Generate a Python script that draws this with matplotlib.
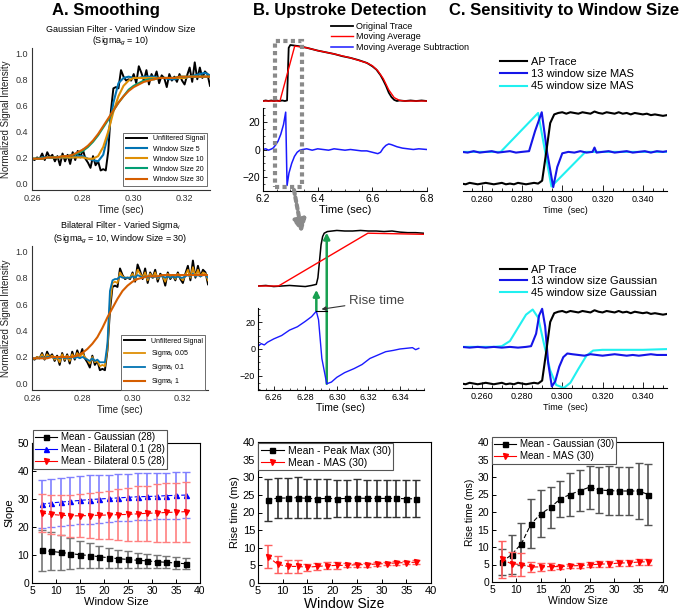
import matplotlib
matplotlib.use("Agg")
import matplotlib.pyplot as plt
import numpy as np
from matplotlib.patches import Rectangle, FancyArrowPatch
from matplotlib.lines import Line2D
from matplotlib.ticker import MultipleLocator

plt.rcParams['font.family'] = ['Liberation Sans', 'DejaVu Sans']
plt.rcParams['mathtext.fontset'] = 'custom'
plt.rcParams['mathtext.rm'] = 'Liberation Sans'
plt.rcParams['mathtext.it'] = 'Liberation Sans:italic'

W, H = 683, 612

# ---------------- data ----------------
# A: unfiltered signal, 1 ms steps from 0.260 s
a_raw = [0.19, 0.18, 0.20, 0.19, 0.23, 0.18, 0.24, 0.20, 0.22, 0.17,
         0.21, 0.14, 0.23, 0.17, 0.22, 0.15, 0.24, 0.18, 0.25, 0.20,
         0.26, 0.19, 0.16, 0.12, 0.21, 0.14, 0.17, 0.10, 0.11, 0.10,
         0.25, 0.55, 0.73, 0.74, 0.73, 0.87, 0.82, 0.79, 0.80, 0.79,
         0.84, 0.77, 0.90, 0.85, 0.79, 0.87, 0.76, 0.84, 0.80, 0.86,
         0.77, 0.83, 0.81, 0.74, 0.84, 0.79, 0.82, 0.78, 0.84, 0.79,
         0.76, 0.83, 0.89, 0.78, 0.93, 0.80, 0.89, 0.81, 0.86, 0.84,
         0.75]
a_sig005 = [0.19, 0.185, 0.20, 0.19, 0.22, 0.185, 0.22, 0.20, 0.21, 0.18,
            0.20, 0.16, 0.22, 0.18, 0.21, 0.17, 0.22, 0.19, 0.23, 0.20,
            0.23, 0.20, 0.18, 0.15, 0.20, 0.16, 0.17, 0.13, 0.14, 0.13,
            0.26, 0.60, 0.76, 0.77, 0.76, 0.84, 0.81, 0.80, 0.80, 0.80,
            0.83, 0.79, 0.86, 0.83, 0.80, 0.84, 0.78, 0.83, 0.80, 0.84,
            0.79, 0.82, 0.81, 0.77, 0.83, 0.80, 0.82, 0.79, 0.83, 0.80,
            0.78, 0.82, 0.86, 0.80, 0.88, 0.81, 0.86, 0.81, 0.84, 0.83,
            0.78]
a_sig01 = [0.19, 0.19, 0.19, 0.19, 0.20, 0.19, 0.20, 0.20, 0.20, 0.19,
           0.20, 0.19, 0.20, 0.19, 0.20, 0.19, 0.20, 0.19, 0.20, 0.19,
           0.20, 0.19, 0.18, 0.17, 0.19, 0.17, 0.18, 0.16, 0.16, 0.16,
           0.30, 0.70, 0.78, 0.79, 0.79, 0.81, 0.80, 0.80, 0.80, 0.80,
           0.81, 0.80, 0.82, 0.81, 0.80, 0.81, 0.80, 0.81, 0.80, 0.81,
           0.80, 0.81, 0.81, 0.80, 0.81, 0.80, 0.81, 0.80, 0.81, 0.80,
           0.80, 0.81, 0.82, 0.81, 0.83, 0.81, 0.82, 0.81, 0.82, 0.82,
           0.80]
# smoothed curves, 2 ms steps from 0.260 s
a_w5 = [.19, .19, .20, .20, .20, .20, .20, .20, .20, .21, .21, .19, .18, .17, .22, .38, .62, .77,
        .81, .82, .81, .81, .82, .82, .82, .81, .81, .80, .80, .81, .81, .82, .83, .84, .85, .83]
a_w10 = [.19, .19, .19, .20, .20, .20, .20, .20, .20, .20, .20, .19, .19, .21, .28, .40, .55, .67,
         .75, .79, .81, .81, .81, .81, .81, .81, .81, .81, .81, .81, .81, .82, .82, .82, .82, .82]
a_w20 = [.19, .19, .19, .20, .20, .20, .21, .21, .22, .23, .25, .28, .32, .37, .43, .49, .56, .62,
         .67, .72, .75, .77, .79, .80, .80, .81, .81, .81, .81, .82, .82, .82, .82, .82, .82, .82]
a_w30 = [.19, .19, .19, .20, .20, .20, .21, .21, .22, .24, .26, .29, .33, .38, .44, .50, .56, .62,
         .67, .71, .74, .76, .78, .79, .80, .81, .81, .81, .81, .82, .82, .82, .82, .82, .82, .82]
a_sig1 = [.19, .19, .19, .19, .20, .20, .20, .20, .20, .21, .23, .26, .30, .35, .42, .50, .57, .64,
          .70, .74, .77, .79, .80, .81, .81, .81, .82, .82, .82, .82, .82, .82, .82, .82, .82, .82]

# B top: AP trace, moving average, MAS
b_ap_t = [6.200, 6.210, 6.220, 6.230, 6.240, 6.250, 6.260, 6.270, 6.280, 6.288, 6.291, 6.294,
          6.300, 6.330, 6.360, 6.400, 6.430, 6.460, 6.490, 6.520, 6.550, 6.580, 6.600, 6.615,
          6.630, 6.640, 6.650, 6.660, 6.670, 6.680, 6.690, 6.700, 6.720, 6.740, 6.760, 6.780, 6.800]
b_ap_v = [0.00, 0.01, 0.00, 0.01, 0.00, 0.01, 0.00, 0.01, 0.00, 0.01, 0.50, 0.95,
          1.00, 0.98, 0.95, 0.90, 0.87, 0.84, 0.80, 0.77, 0.73, 0.68, 0.62, 0.56,
          0.46, 0.37, 0.27, 0.15, 0.07, 0.02, 0.00, 0.01, 0.00, 0.01, 0.00, 0.01, 0.00]
b_ma_t = [6.200, 6.262, 6.316, 6.360, 6.400, 6.460, 6.520, 6.580, 6.600, 6.620, 6.640,
          6.660, 6.680, 6.700, 6.720, 6.800]
b_ma_v = [0.00, 0.00, 0.98, 0.95, 0.90, 0.84, 0.77, 0.68, 0.63, 0.54, 0.40,
          0.20, 0.06, 0.01, 0.00, 0.00]
b_mas_t = [6.200, 6.210, 6.220, 6.230, 6.237, 6.245, 6.255, 6.265, 6.275, 6.283, 6.2855, 6.288,
           6.295, 6.305, 6.315, 6.325, 6.335, 6.345, 6.360, 6.380, 6.400, 6.420, 6.440, 6.460,
           6.480, 6.500, 6.520, 6.540, 6.560, 6.580, 6.600, 6.620, 6.630, 6.640, 6.650, 6.660,
           6.670, 6.690, 6.710, 6.730, 6.750, 6.770, 6.800]
b_mas_v = [0, 0.5, -0.5, 0.3, 1, 3, 6, 11, 18, 27, 0, -26,
           -17, -10, -5, -2, -0.5, 0, 0.5, -0.5, 0.5, 0, -0.5, 0.5,
           0, -0.5, 0, -0.5, -1, -1, -2, -3, -2, 1, 3, 4,
           3.5, 2, 1, 0.5, 0, 0.5, 0]

# B middle: zoom on the upstroke
bz_ap_t = [6.250, 6.255, 6.260, 6.265, 6.270, 6.275, 6.280, 6.284, 6.287, 6.288, 6.289, 6.290,
           6.291, 6.292, 6.294, 6.297, 6.300, 6.305, 6.310, 6.315, 6.320, 6.325, 6.330, 6.335,
           6.340, 6.345, 6.350, 6.355]
bz_ap_v = [0.00, 0.01, -0.01, 0.00, 0.01, 0.00, -0.01, 0.01, 0.03, 0.15, 0.45, 0.75,
           0.90, 0.96, 0.99, 1.00, 1.01, 1.00, 1.00, 1.01, 1.00, 1.00, 0.99, 1.00,
           0.98, 0.97, 0.97, 0.96]
bz_ma_t = [6.250, 6.263, 6.3197, 6.355]
bz_ma_v = [0.00, 0.00, 0.96, 0.94]
bz_mas_t = [6.250, 6.252, 6.254, 6.256, 6.260, 6.265, 6.270, 6.275, 6.280, 6.284, 6.287, 6.2884,
            6.2905, 6.2936, 6.2966, 6.300, 6.305, 6.311, 6.316, 6.321, 6.326, 6.331, 6.336, 6.340,
            6.344, 6.348, 6.350, 6.352]
bz_mas_v = [2, 4, 3, 5, 7.5, 10, 14, 16.5, 20.5, 24, 28, 21.7,
            -7, -25.8, -24.5, -21, -17.5, -14.5, -11.5, -7, -4.5, -2, -1, 0,
            0.5, 1, -0.5, 0.5]

# C: AP trace (normalized), 2 ms steps from 0.250 s
c_ap = [0.02, 0.01, 0.03, 0.02, 0.01, 0.02, 0.03, 0.02, 0.01, 0.02,
        0.03, 0.01, 0.02, 0.01, 0.03, 0.02, 0.01, 0.02, 0.03, 0.02,
        0.06, 0.45, 0.86, 0.98, 1.00, 1.01, 0.99, 1.01, 1.00, 0.99,
        1.01, 1.00, 0.99, 1.02, 1.00, 0.99, 1.01, 1.00, 0.99, 1.01,
        0.99, 1.00, 0.98, 1.00, 0.99, 0.98, 0.99, 0.97, 0.98, 0.97,
        0.96, 0.97]
c_mas13_t = [0.250, 0.253, 0.256, 0.259, 0.262, 0.265, 0.268, 0.271, 0.274, 0.277, 0.280, 0.2835,
             0.2865, 0.2898, 0.2925, 0.2955, 0.2975, 0.300, 0.303, 0.306, 0.309, 0.312, 0.315,
             0.316, 0.317, 0.320, 0.323, 0.326, 0.329, 0.332, 0.335, 0.338, 0.341, 0.344, 0.347,
             0.350, 0.352]
c_mas13_v = [0.46, 0.45, 0.47, 0.45, 0.46, 0.47, 0.45, 0.46, 0.47, 0.45, 0.46, 0.47,
             0.75, 1.01, 0.45, -0.03, 0.25, 0.44, 0.46, 0.45, 0.47, 0.45, 0.46,
             0.52, 0.45, 0.46, 0.47, 0.45, 0.46, 0.47, 0.45, 0.46, 0.47, 0.45, 0.47,
             0.46, 0.47]
c_mas45_t = [0.250, 0.2694, 0.288, 0.2946, 0.3115, 0.352]
c_mas45_v = [0.46, 0.46, 1.00, -0.02, 0.46, 0.46]
c_g13_t = [0.250, 0.254, 0.258, 0.262, 0.266, 0.270, 0.274, 0.278, 0.282, 0.2845, 0.2870, 0.2885,
           0.2900, 0.2915, 0.2930, 0.2948, 0.2965, 0.2985, 0.3005, 0.3025, 0.305, 0.308, 0.311,
           0.314, 0.317, 0.320, 0.323, 0.326, 0.329, 0.332, 0.335, 0.338, 0.341, 0.344, 0.347,
           0.350, 0.352]
c_g13_v = [0.52, 0.51, 0.52, 0.51, 0.52, 0.51, 0.52, 0.51, 0.52, 0.53, 0.70, 0.95,
           1.04, 0.80, 0.30, -0.02, 0.05, 0.25, 0.38, 0.43, 0.42, 0.41, 0.40,
           0.42, 0.41, 0.40, 0.41, 0.42, 0.41, 0.40, 0.41, 0.40, 0.41, 0.42, 0.41,
           0.41, 0.41]
c_g45_t = [0.250, 0.260, 0.266, 0.270, 0.274, 0.278, 0.282, 0.2853, 0.288, 0.291, 0.294, 0.297,
           0.3008, 0.304, 0.308, 0.312, 0.3153, 0.320, 0.330, 0.340, 0.352]
c_g45_v = [0.52, 0.52, 0.52, 0.53, 0.60, 0.78, 0.96, 1.03, 0.92, 0.55, 0.20, 0.00,
           -0.04, 0.03, 0.22, 0.40, 0.47, 0.48, 0.48, 0.48, 0.49]

# bottom row: means and SD vs window size
win = [7, 9, 11, 13, 15, 17, 19, 21, 23, 25, 27, 29, 31, 33, 35, 37]
slope_gauss = [11.7, 11.3, 10.9, 10.5, 10.1, 9.8, 9.4, 9.0, 8.7, 8.4, 8.1, 7.9, 7.6, 7.4, 7.1, 6.9]
slope_gauss_sd = [7.4, 6.8, 6.1, 5.5, 4.9, 4.4, 3.9, 3.5, 3.2, 2.9, 2.7, 2.5, 2.3, 2.2, 2.1, 1.9]
slope_bil01 = [28.1, 28.6, 28.9, 29.2, 29.5, 29.8, 30.0, 30.2, 30.4, 30.6, 30.8, 30.9, 31.0, 31.2, 31.3, 31.4]
slope_bil01_sd = [8.6, 8.5, 8.6, 8.6, 8.6, 8.6, 8.5, 8.5, 8.4, 8.4, 8.4, 8.3, 8.2, 8.2, 8.3, 8.3]
slope_bil05 = [25.0, 24.5, 24.2, 24.0, 24.0, 24.1, 24.2, 24.3, 24.4, 24.5, 24.7, 24.9, 25.0, 25.2, 25.3, 25.5]
slope_bil05_sd = [6.8, 7.0, 7.2, 7.5, 7.7, 8.1, 8.4, 8.7, 9.1, 9.5, 9.8, 9.9, 10.2, 10.4, 10.5, 10.7]
rise_peak = [23.6, 24.1, 24.1, 24.2, 24.0, 23.9, 24.0, 23.9, 24.0, 24.1, 24.0, 24.0, 24.0, 24.0, 23.9, 23.9]
rise_peak_sd = [5.9, 5.7, 5.8, 5.8, 5.6, 5.5, 5.6, 5.3, 5.3, 5.3, 5.2, 5.2, 5.2, 5.2, 5.2, 5.2]
rise_mas_b = [7.5, 5.3, 4.7, 4.7, 4.5, 4.7, 4.9, 5.0, 5.0, 5.2, 5.2, 5.4, 5.5, 5.7, 5.8, 5.9]
rise_mas_b_sd = [3.3, 2.4, 1.8, 1.8, 1.0, 1.0, 1.0, 1.0, 0.6, 0.6, 0.6, 0.5, 0.5, 0.5, 0.5, 0.5]
rise_gauss_c = [5.7, 7.8, 10.9, 16.6, 19.5, 21.3, 23.8, 25.0, 26.1, 27.1, 26.3, 26.1, 26.0, 26.0, 26.0, 25.0]
rise_gauss_c_sd = [3.8, 5.6, 6.0, 7.0, 6.7, 5.8, 5.2, 6.1, 5.8, 6.1, 6.6, 7.0, 6.9, 6.9, 8.1, 8.6]
rise_mas_c = [6.5, 5.2, 5.0, 4.3, 4.3, 4.4, 4.4, 4.6, 4.7, 4.9, 5.1, 5.2, 5.4, 5.5, 5.7, 5.8]
rise_mas_c_sd = [5.3, 3.5, 3.4, 1.4, 1.2, 1.1, 0.6, 0.6, 0.7, 0.7, 0.8, 0.8, 0.9, 0.9, 0.9, 0.9]

t_a1 = 0.260 + 0.001 * np.arange(len(a_raw))
t_a2 = 0.260 + 0.002 * np.arange(len(a_w5))
t_c = 0.250 + 0.002 * np.arange(len(c_ap))

CB = ['#0173B2', '#DE8F05', '#029E73', '#D55E00']
GREEN = '#18a050'


def box(l, t, r, b):
    # pixel box -> figure fraction
    return [l / W, 1 - b / H, (r - l) / W, (b - t) / H]


fig = plt.figure(figsize=(6.83, 6.12), dpi=100)

# ---------------- titles ----------------
fig.text(106 / W, 1 - 11 / H, 'A. Smoothing', ha='center', va='center', fontsize=12, weight='bold')
fig.text(340 / W, 1 - 11 / H, 'B. Upstroke Detection', ha='center', va='center', fontsize=12, weight='bold')
fig.text(564 / W, 1 - 11 / H, 'C. Sensitivity to Window Size', ha='center', va='center', fontsize=12, weight='bold')


def style_sns(ax):
    for s in ['top', 'right']:
        ax.spines[s].set_visible(False)
    for s in ['left', 'bottom']:
        ax.spines[s].set_color('#333333')
        ax.spines[s].set_linewidth(0.8)
    ax.tick_params(length=0, pad=3, labelsize=6.5, colors='#333333')
    ax.set_xlim(0.26, 0.33)
    ax.set_ylim(-0.05, 1.04)
    ax.set_xticks([0.26, 0.28, 0.30, 0.32])
    ax.set_yticks([0.0, 0.2, 0.4, 0.6, 0.8, 1.0])
    ax.set_xlabel('Time (sec)', fontsize=7, labelpad=1, color='#222222')
    ax.set_ylabel('Normalized Signal Intensity', fontsize=7, labelpad=3, color='#222222')


# ---------------- A top ----------------
ax = fig.add_axes(box(32, 48, 210, 190))
ax.plot(t_a1, a_raw, color='black', lw=1.4, label='Unfiltered Signal')
ax.plot(t_a2, a_w5, color=CB[0], lw=1.5, label='Window Size 5')
ax.plot(t_a2, a_w10, color=CB[1], lw=1.5, label='Window Size 10')
ax.plot(t_a2, a_w20, color=CB[2], lw=1.5, label='Window Size 20')
ax.plot(t_a2, a_w30, color=CB[3], lw=1.5, label='Window Size 30')
style_sns(ax)
ax.set_title('Gaussian Filter - Varied Window Size\n(Sigma$_g$ = 10)', fontsize=6.5, pad=3, linespacing=1.1)
lg = ax.legend(loc='lower right', bbox_to_anchor=(0.985, 0.03), fontsize=5, handlelength=3,
               labelspacing=0.45, borderaxespad=0, fancybox=False, framealpha=1)
lg.get_frame().set_edgecolor('#555555')
lg.get_frame().set_linewidth(0.6)

# ---------------- A middle ----------------
ax = fig.add_axes(box(32, 246, 208, 390))
ax.plot(t_a1, a_raw, color='black', lw=1.4, label='Unfiltered Signal')
ax.plot(t_a1, a_sig005, color=CB[1], lw=1.3, label='Sigma$_i$ 0.05')
ax.plot(t_a1, a_sig01, color=CB[0], lw=1.3, label='Sigma$_i$ 0.1')
ax.plot(t_a2, a_sig1, color=CB[3], lw=1.5, label='Sigma$_i$ 1')
style_sns(ax)
ax.set_title('Bilateral Filter - Varied Sigma$_i$\n(Sigma$_g$ = 10, Window Size = 30)', fontsize=6.5,
             pad=3, linespacing=1.1)
lg = ax.legend(loc='lower right', bbox_to_anchor=(0.985, 0.0), fontsize=5, handlelength=3,
               labelspacing=0.45, borderaxespad=0, fancybox=False, framealpha=1)
lg.get_frame().set_edgecolor('#555555')
lg.get_frame().set_linewidth(0.6)


def style_origin(ax, xlim, ylim, ystep, fs_tick, fs_lab):
    ax.set_xlim(*xlim)
    ax.set_ylim(*ylim)
    ax.xaxis.set_major_locator(MultipleLocator(5))
    ax.yaxis.set_major_locator(MultipleLocator(ystep))
    ax.tick_params(direction='in', length=3, width=0.7, labelsize=fs_tick, pad=2)
    for s in ax.spines.values():
        s.set_linewidth(0.8)
    ax.set_xlabel('Window Size', fontsize=fs_lab, labelpad=1)


def mean_sd(ax, y, sd, color, ecolor, marker, label):
    ax.errorbar(win, y, yerr=sd, fmt='none', ecolor=ecolor, elinewidth=1.2, capsize=3, capthick=1)
    line, = ax.plot(win, y, color=color, marker=marker, ms=3.6, lw=0.8, ls='--', label=label,
                    dashes=(4, 2))
    return line


def origin_legend(ax, handles, x, y, fs):
    hl = [Line2D([0], [0], color=h.get_color(), marker=h.get_marker(), ms=3.6, lw=0.8) for h in handles]
    lg = ax.legend(hl, [h.get_label() for h in handles], loc='upper left', bbox_to_anchor=(x / W, 1 - y / H),
                   bbox_transform=fig.transFigure, fontsize=fs, handlelength=2.2, handletextpad=0.4,
                   labelspacing=0.2, borderpad=0.25, borderaxespad=0, fancybox=False, framealpha=1)
    lg.get_frame().set_edgecolor('#555555')
    lg.get_frame().set_linewidth(0.8)


# ---------------- A bottom ----------------
ax = fig.add_axes(box(32, 443, 200, 583))
h1 = mean_sd(ax, slope_gauss, slope_gauss_sd, 'black', '#777777', 's', 'Mean - Gaussian (28)')
h2 = mean_sd(ax, slope_bil01, slope_bil01_sd, 'blue', '#8080ff', '^', 'Mean - Bilateral 0.1 (28)')
h3 = mean_sd(ax, slope_bil05, slope_bil05_sd, 'red', '#ff8080', 'v', 'Mean - Bilateral 0.5 (28)')
style_origin(ax, (5, 40), (0, 50), 10, 7.5, 8)
ax.set_ylabel('Slope', fontsize=8, labelpad=2)
origin_legend(ax, [h1, h2, h3], 33, 430, 7)

# ---------------- B top ----------------
ax_u = fig.add_axes(box(263, 40, 427, 105))
ax_u.patch.set_visible(False)
l1, = ax_u.plot(b_ap_t, b_ap_v, color='black', lw=1.3, label='Original Trace')
l2, = ax_u.plot(b_ma_t, b_ma_v, color='red', lw=1.0, label='Moving Average')
ax_u.set_xlim(6.2, 6.8)
ax_u.set_ylim(-0.071, 1.089)
ax_u.axis('off')

ax_l = fig.add_axes(box(263, 108, 427, 191))
ax_l.patch.set_visible(False)
l3, = ax_l.plot(b_mas_t, b_mas_v, color='#1a1aff', lw=1.1, label='Moving Average Subtraction')
ax_l.set_xlim(6.2, 6.8)
ax_l.set_ylim(-30, 30)
ax_l.set_yticks([-20, 0, 20])
ax_l.set_xticks([6.2, 6.4, 6.6, 6.8])
ax_l.yaxis.set_minor_locator(MultipleLocator(5))
ax_l.xaxis.set_minor_locator(MultipleLocator(0.05))
for s in ['top', 'right']:
    ax_l.spines[s].set_visible(False)
ax_l.tick_params(direction='in', length=3, width=0.6, labelsize=7.5, pad=2)
ax_l.tick_params(which='minor', direction='in', length=1.5, width=0.5)
ax_l.set_xlabel('Time (sec)', fontsize=8, labelpad=1)
fig.legend([l1, l2, l3], [l1.get_label(), l2.get_label(), l3.get_label()], loc='upper left',
           bbox_to_anchor=(331 / W, 1 - 22 / H), frameon=False, fontsize=6.5, handlelength=2.4,
           handletextpad=0.35, labelspacing=0.15, borderpad=0, borderaxespad=0)

# dashed box around upstroke and dotted arrow
fig.add_artist(Rectangle((275 / W, 1 - 187 / H), 27 / W, 146 / H, transform=fig.transFigure,
                         fill=False, ec='#8a8a8a', lw=3, ls=(0, (1, 0.8))))
fig.add_artist(FancyArrowPatch((294 / W, 1 - 190 / H), (302 / W, 1 - 233 / H), transform=fig.transFigure,
                               arrowstyle='-|>', mutation_scale=18, color='#8a8a8a', lw=3,
                               ls=(0, (1, 0.8)), shrinkA=0, shrinkB=0))

# ---------------- B middle ----------------
ax_u2 = fig.add_axes(box(258, 226, 424, 292))
ax_u2.plot(bz_ap_t, bz_ap_v, color='black', lw=1.1)
ax_u2.plot(bz_ma_t, bz_ma_v, color='red', lw=1.0)
ax_u2.set_xlim(6.25, 6.3553)
ax_u2.set_ylim(-0.109, 1.091)
ax_u2.axis('off')

ax_l2 = fig.add_axes(box(258, 308, 424, 390))
ax_l2.patch.set_visible(False)
ax_l2.plot(bz_mas_t, bz_mas_v, color='#1a1aff', lw=1.0)
ax_l2.set_xlim(6.25, 6.3553)
ax_l2.set_ylim(-30.4, 30.4)
ax_l2.set_yticks([-20, 0, 20])
ax_l2.set_xticks([6.26, 6.28, 6.30, 6.32, 6.34])
ax_l2.set_xticklabels(['6.26', '6.28', '6.30', '6.32', '6.34'])
ax_l2.yaxis.set_minor_locator(MultipleLocator(5))
ax_l2.xaxis.set_minor_locator(MultipleLocator(0.005))
for s in ['top', 'right']:
    ax_l2.spines[s].set_visible(False)
ax_l2.tick_params(direction='in', length=3, width=0.6, labelsize=6.5, pad=2)
ax_l2.tick_params(which='minor', direction='in', length=1.5, width=0.5)
ax_l2.set_xlabel('Time (sec)', fontsize=7.5, labelpad=1)

# green arrows: MAS peak -> upstroke start, MAS min -> upstroke end
t_peak = bz_mas_t[bz_mas_v.index(max(bz_mas_v))]
t_min = bz_mas_t[bz_mas_v.index(min(bz_mas_v))]
ax_u2.annotate('', xy=(t_peak, -0.07), xycoords=ax_u2.transData, xytext=(t_peak, max(bz_mas_v)),
               textcoords=ax_l2.transData, annotation_clip=False,
               arrowprops=dict(arrowstyle='-|>', color=GREEN, lw=1.8, mutation_scale=9, shrinkA=0, shrinkB=0))
ax_u2.annotate('', xy=(t_min, 0.97), xycoords=ax_u2.transData, xytext=(t_min, min(bz_mas_v)),
               textcoords=ax_l2.transData, annotation_clip=False,
               arrowprops=dict(arrowstyle='-|>', color=GREEN, lw=1.8, mutation_scale=9, shrinkA=0, shrinkB=0))
ax_l2.plot([t_peak, t_min], [28, 28], color='black', lw=0.8, clip_on=False)
ax_l2.annotate('Rise time', xy=((t_peak + t_min) / 2, 29.5), xycoords='data',
               xytext=(349 / W, 1 - 301 / H), textcoords='figure fraction', fontsize=9.5,
               color='#444444', va='center', ha='left', annotation_clip=False,
               arrowprops=dict(arrowstyle='-|>', color='#333333', lw=0.8, mutation_scale=6,
                               shrinkA=1, shrinkB=0))

# ---------------- B bottom ----------------
ax = fig.add_axes(box(258, 442, 431, 583))
h1 = mean_sd(ax, rise_peak, rise_peak_sd, 'black', '#333333', 's', 'Mean - Peak Max (30)')
h2 = mean_sd(ax, rise_mas_b, rise_mas_b_sd, 'red', '#ff6060', 'v', 'Mean - MAS (30)')
style_origin(ax, (5, 40), (0, 40), 5, 8, 10)
ax.set_ylabel('Rise time (ms)', fontsize=8, labelpad=2)
origin_legend(ax, [h1, h2], 258, 443, 7.5)


# ---------------- C top / middle ----------------
def style_trace_c(ax):
    ax.set_xlim(0.2507, 0.352)
    for s in ['top', 'right', 'left']:
        ax.spines[s].set_visible(False)
    ax.spines['bottom'].set_linewidth(0.8)
    ax.set_yticks([])
    ax.set_xticks([0.26, 0.28, 0.30, 0.32, 0.34])
    ax.set_xticklabels(['0.260', '0.280', '0.300', '0.320', '0.340'])
    ax.xaxis.set_minor_locator(MultipleLocator(0.005))
    ax.tick_params(axis='x', direction='in', length=4, width=0.6, labelsize=6.5, pad=3)
    ax.tick_params(axis='x', which='minor', direction='in', length=2.5, width=0.6)
    ax.set_xlabel('Time  (sec)', fontsize=6.5, labelpad=1)


ax = fig.add_axes(box(463, 100, 667, 191))
ax.plot(c_mas45_t, c_mas45_v, color='#20f0f0', lw=1.5, label='45 window size MAS')
ax.plot(c_mas13_t, c_mas13_v, color='#1515e8', lw=1.5, label='13 window size MAS')
ax.plot(t_c, c_ap, color='black', lw=1.5, label='AP Trace')
ax.set_ylim(-0.083, 1.18)
style_trace_c(ax)
hs, ls_ = ax.get_legend_handles_labels()
fig.legend(hs[::-1], ls_[::-1], loc='upper left', bbox_to_anchor=(500 / W, 1 - 57 / H), frameon=False,
           fontsize=8, handlelength=2.4, handletextpad=0.4, labelspacing=0.2, borderpad=0, borderaxespad=0)

ax = fig.add_axes(box(463, 300, 667, 388))
ax.plot(c_g45_t, c_g45_v, color='#20f0f0', lw=1.5, label='45 window size Gaussian')
ax.plot(c_g13_t, c_g13_v, color='#1515e8', lw=1.5, label='13 window size Gaussian')
ax.plot(t_c, c_ap, color='black', lw=1.5, label='AP Trace')
ax.set_ylim(-0.041, 1.16)
style_trace_c(ax)
hs, ls_ = ax.get_legend_handles_labels()
fig.legend(hs[::-1], ls_[::-1], loc='upper left', bbox_to_anchor=(500 / W, 1 - 265 / H), frameon=False,
           fontsize=8, handlelength=2.4, handletextpad=0.4, labelspacing=0.12, borderpad=0, borderaxespad=0)

# ---------------- C bottom ----------------
ax = fig.add_axes(box(492, 442, 663, 582))
h1 = mean_sd(ax, rise_gauss_c, rise_gauss_c_sd, 'black', '#555555', 's', 'Mean - Gaussian (30)')
h2 = mean_sd(ax, rise_mas_c, rise_mas_c_sd, 'red', '#ff6060', 'v', 'Mean - MAS (30)')
style_origin(ax, (5, 40), (0, 40), 5, 7.5, 7.5)
ax.set_ylabel('Rise time (ms)', fontsize=7.5, labelpad=2)
origin_legend(ax, [h1, h2], 492, 437, 7)

fig.savefig('out.png', dpi=100)
